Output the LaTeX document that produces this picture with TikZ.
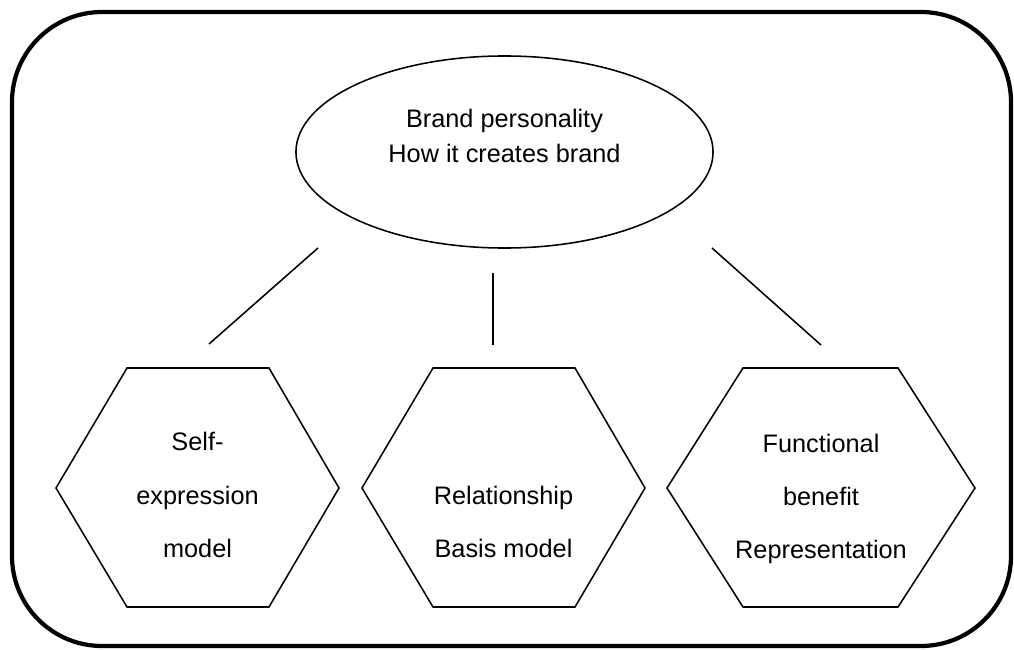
\documentclass[tikz,border=0pt]{standalone}
\usepackage{fontspec}
\setmainfont{Liberation Sans}
\usepackage{tikz}
\usetikzlibrary{shapes.geometric}

\begin{document}
\begin{tikzpicture}[
                x=0.025cm, y=-0.025cm,
                frame/.style={draw, line width=3pt, rounded corners=2.25cm},
                link/.style={draw, line width=1.1pt},
                hexline/.style={draw, line width=1.1pt, line join=miter},
                oval/.style={ellipse, draw, line width=1.1pt, minimum width=10.425cm, minimum height=4.8cm, inner sep=0pt},
                brand text/.style={align=center, inner sep=0pt, font=\fontsize{18}{25}\selectfont},
                model text/.style={align=center, inner sep=0pt, font=\fontsize{18}{38}\selectfont}
            ]
                \useasboundingbox (0,0) rectangle (1014,650);
                \draw[frame] (12,12) rectangle (1011,646);

                \node[oval] (brand) at (504.5,152) {};
                \node[brand text] (brandtext) at (504.5,136) {Brand personality\\How it creates brand};

                \draw[hexline] (56,488) -- (127,368) -- (269,368) -- (339,488) -- (269,607) -- (127,607) -- cycle;
                \draw[hexline] (362,488) -- (433,368) -- (575,368) -- (645,488) -- (575,607) -- (433,607) -- cycle;
                \draw[hexline] (667,488) -- (743,368) -- (898,368) -- (975,488) -- (898,607) -- (743,607) -- cycle;

                \node[model text] (selfexpression) at (197.5,495) {Self-\\expression\\model};
                \node[model text] (relationship) at (503.5,522) {Relationship\\Basis model};
                \node[model text] (functional) at (821,499) {Functional\\benefit\\Representation};

                \coordinate (leftstart) at (318,248);
                \coordinate (leftend) at (209,344);
                \coordinate (midstart) at (493,273);
                \coordinate (midend) at (493,345);
                \coordinate (rightstart) at (712,248);
                \coordinate (rightend) at (821,345);
                \draw[link] (leftstart) -- (leftend);
                \draw[link] (midstart) -- (midend);
                \draw[link] (rightstart) -- (rightend);
            \end{tikzpicture}
\end{document}
